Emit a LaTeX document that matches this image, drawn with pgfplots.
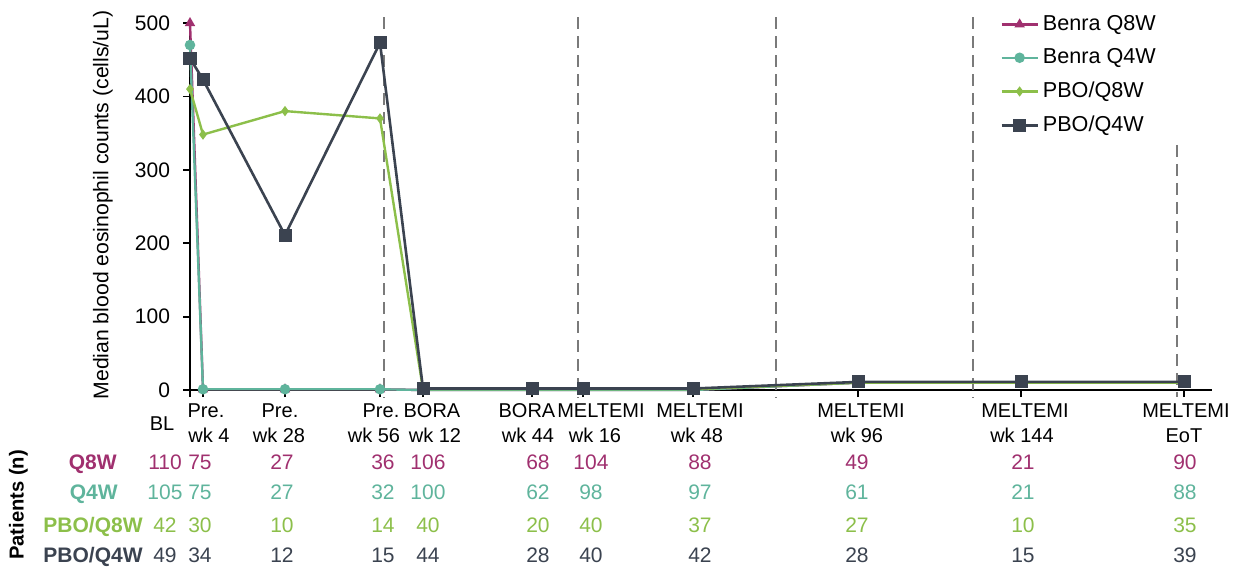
\documentclass[border=0pt]{standalone}
\usepackage{fontspec}
\setmainfont{Liberation Sans}
\usepackage{pgfplots}
\pgfplotsset{compat=1.18}
\definecolor{cQ8}{HTML}{A0306F}
\definecolor{cQ4}{HTML}{5FB49C}
\definecolor{cP8}{HTML}{8CBF4A}
\definecolor{cP4}{HTML}{3B4350}
\definecolor{dashc}{HTML}{7A7A7A}
\newcommand\fa{\fontsize{10.5bp}{12bp}\selectfont}
\newcommand\fx{\fontsize{10bp}{12bp}\selectfont}
\begin{document}
\begin{tikzpicture}
\useasboundingbox (-95bp,-89.5bp) rectangle (526bp,195bp);
\begin{axis}[at={(0,0)}, anchor=south west, scale only axis,
  width=511bp, height=183.5bp,
  xmin=190, xmax=1212, ymin=0, ymax=500,
  axis x line=bottom, axis y line=left,
  axis line style={-, line width=1bp, black},
  xtick={190,203,285,380,423,532,583,693,858,1021,1184},
  xticklabel=\empty,
  ytick={0,100,200,300,400,500},
  tick align=outside, major tick length=3.5bp,
  tick style={black, line width=0.9bp},
  yticklabel style={font=\fa, xshift=-3bp, /pgf/number format/assume math mode=true},
  clip=false,
  legend style={draw=none, fill=none, at={(0.7925,1.033)}, anchor=north west,
    font=\fontsize{10.8bp}{12bp}\selectfont, row sep=3.7bp, inner sep=0pt,
    /tikz/every even column/.append style={column sep=-1.5bp}},
  legend cell align=left,
  legend image code/.code={\draw[mark repeat=2,mark phase=2,#1] plot coordinates {(0bp,0bp)(9bp,0bp)(18bp,0bp)};},
]
\draw[dashc, dash pattern=on 6bp off 3.5bp, line width=0.8bp] (axis cs:384,508) -- (axis cs:384,-10);
\draw[dashc, dash pattern=on 6bp off 3.5bp, line width=0.8bp] (axis cs:578,508) -- (axis cs:578,-10);
\draw[dashc, dash pattern=on 6bp off 3.5bp, line width=0.8bp] (axis cs:776,508) -- (axis cs:776,-10);
\draw[dashc, dash pattern=on 6bp off 3.5bp, line width=0.8bp] (axis cs:973,508) -- (axis cs:973,-10);
\draw[dashc, dash pattern=on 6bp off 3.5bp, line width=0.8bp] (axis cs:1177,334) -- (axis cs:1177,-10);
\addplot[cQ8, line width=1.2bp, mark=triangle*, mark size=1.8bp] coordinates {(190,500)(203,1)(285,1)(380,1)(423,0)(532,0)(583,0)(693,0)(858,10)(1021,10)(1184,10)};
\addlegendentry{Benra Q8W}
\addplot[cQ4, line width=1.2bp, mark=*, mark size=2bp] coordinates {(190,470)(203,1)(285,1)(380,1)(423,0)(532,0)(583,0)(693,0)(858,10)(1021,10)(1184,10)};
\addlegendentry{Benra Q4W}
\addplot[cP8, line width=1.2bp, mark=diamond*, mark size=1.6bp] coordinates {(190,410)(203,348)(285,380)(380,370)(423,1)(532,1)(583,1)(693,1)(858,10)(1021,10)(1184,10)};
\addlegendentry{PBO/Q8W}
\addplot[cP4, line width=1.3bp, mark=square*, mark size=2.6bp] coordinates {(190,452)(203,423)(285,211)(380,473)(423,2)(532,2)(583,2)(693,2)(858,11)(1021,11)(1184,11)};
\addlegendentry{PBO/Q4W}
\end{axis}
\begin{scope}[x=0.5bp, y=-0.5bp, shift={(-95bp,195bp)}]
\node[rotate=90, font=\fontsize{10.6bp}{12bp}\selectfont] at (103,205) {Median blood eosinophil counts (cells/uL)};
\node[rotate=90, font=\fontsize{10.1bp}{12bp}\selectfont\bfseries] at (18.5,505) {Patients (n)};
% x labels
\begin{scope}[every node/.style={anchor=base, font=\fx, inner sep=0pt}]
\node at (162,431) {BL};
\node at (206,418) {Pre.}; \node at (209,443) {wk 4};
\node at (280,418) {Pre.}; \node at (279,443) {wk 28};
\node at (381,418) {Pre.}; \node at (374,443) {wk 56};
\node at (432,418) {BORA}; \node at (435,443) {wk 12};
\node at (527,418) {BORA}; \node at (528,443) {wk 44};
\node at (601,418) {MELTEMI}; \node at (595,443) {wk 16};
\node at (700,418) {MELTEMI}; \node at (697,443) {wk 48};
\node at (861,418) {MELTEMI}; \node at (857,443) {wk 96};
\node at (1025,418) {MELTEMI}; \node at (1022,443) {wk 144};
\node at (1186,418) {MELTEMI}; \node at (1184,443) {EoT};
\end{scope}
% patients table
\begin{scope}[every node/.style={font=\fa, inner sep=0pt}]
\node[anchor=base east, text=cQ8, font=\fa\bfseries] at (117,470) {Q8W};
\node[anchor=base east, text=cQ4, font=\fa\bfseries] at (118,500) {Q4W};
\node[anchor=base east, text=cP8, font=\fa\bfseries] at (143,533) {PBO/Q8W};
\node[anchor=base east, text=cP4, font=\fa\bfseries] at (143,563) {PBO/Q4W};
\foreach \x/\a/\b/\c/\d in {165/110/105/42/49, 200/75/75/30/34, 282/27/27/10/12, 383/36/32/14/15, 428/106/100/40/44, 538/68/62/20/28, 591/104/98/40/40, 700/88/97/37/42, 857/49/61/27/28, 1023/21/21/10/15, 1185/90/88/35/39}{
  \node[anchor=base, text=cQ8] at (\x,470) {\a};
  \node[anchor=base, text=cQ4] at (\x,500) {\b};
  \node[anchor=base, text=cP8] at (\x,533) {\c};
  \node[anchor=base, text=cP4] at (\x,563) {\d};
}
\end{scope}
\end{scope}
\end{tikzpicture}
\end{document}
